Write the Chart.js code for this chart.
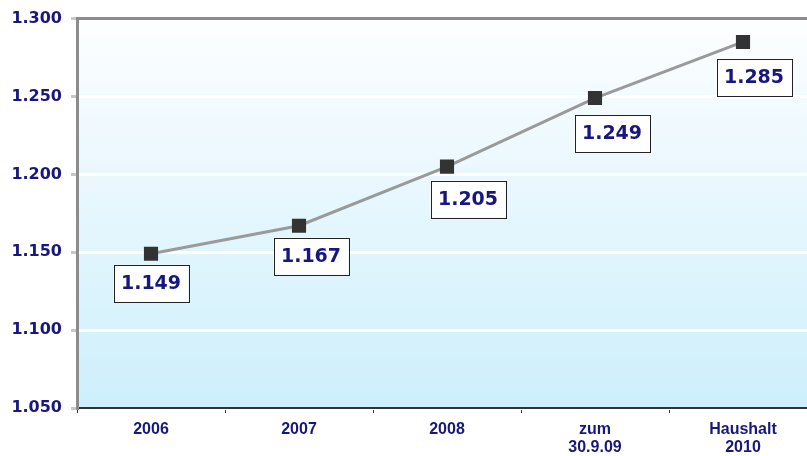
<!DOCTYPE html>
<html>
<head>
<meta charset="utf-8">
<script src="https://cdn.jsdelivr.net/npm/chart.js@4/dist/chart.umd.min.js"></script>
<style>
  html, body { margin: 0; padding: 0; background: #fff; overflow: hidden; }
  /* Zeichenfläche läuft rechts etwas über den Bildrand hinaus (wie im Original) */
  #wrap { width: 817px; height: 456px; }
  canvas { display: block; }
</style>
</head>
<body>
<div id="wrap"><canvas id="chart"></canvas></div>
<script>
// Kategorien (x-Achse)
var categories = ['2006', '2007', '2008', ['zum', '30.9.09'], ['Haushalt', '2010']];
// Werte der Reihe
var values = [1149, 1167, 1205, 1249, 1285];
// y-Achse
var yMin = 1050;
var yMax = 1300;
var yStep = 50;

// Verschiebung der Beschriftungskästen (wie im Original von Hand gesetzt)
var labelShiftX = [0, 12, 21, 17, 11];
var labelShiftY = [11, 12, 14, 17, 17];

var navy = '#17177f';

function deFormat(v) {
  var s = String(Math.round(v));
  if (s.length > 3) s = s.slice(0, s.length - 3) + '.' + s.slice(-3);
  return s;
}

// Hintergrund: Verlauf weiss -> hellblau
var bgPlugin = {
  id: 'bg',
  beforeDraw: function (chart) {
    var a = chart.chartArea, c = chart.ctx;
    var g = c.createLinearGradient(0, a.top, 0, a.bottom);
    g.addColorStop(0, '#fdfeff');
    g.addColorStop(1, '#cdeffc');
    c.save();
    c.fillStyle = g;
    c.fillRect(a.left, a.top, a.right - a.left, a.bottom - a.top);
    c.restore();
  }
};

// Beschriftungen in Kästen unter den Punkten
var boxPlugin = {
  id: 'boxes',
  afterDatasetsDraw: function (chart) {
    var c = chart.ctx;
    var meta = chart.getDatasetMeta(0);
    c.save();
    c.font = 'bold 19px "DejaVu Sans"';
    c.textAlign = 'center';
    c.textBaseline = 'middle';
    meta.data.forEach(function (pt, i) {
      var w = 75, h = 37;
      var cx = pt.x + labelShiftX[i];
      var top = pt.y + labelShiftY[i];
      c.fillStyle = '#fff';
      c.fillRect(cx - w / 2, top, w, h);
      c.strokeStyle = '#222';
      c.lineWidth = 1;
      c.strokeRect(Math.round(cx - w / 2) + 0.5, Math.round(top) + 0.5, w, h);
      c.fillStyle = navy;
      c.fillText(deFormat(values[i]), cx, top + h / 2 + 1);
    });
    c.restore();
  }
};

var ctx = document.getElementById('chart').getContext('2d');
var chart = new Chart(ctx, {
  type: 'line',
  data: {
    labels: categories,
    datasets: [{
      data: values,
      borderColor: '#9a9a9a',
      borderWidth: 3,
      pointStyle: 'rect',
      pointRadius: 10,
      pointBorderWidth: 0,
      pointBackgroundColor: '#333',
      pointHoverRadius: 10,
      tension: 0
    }]
  },
  options: {
    responsive: true,
    maintainAspectRatio: false,
    animation: false,
    layout: { autoPadding: false, padding: { top: 16, right: 0, left: 0, bottom: 0 } },
    plugins: { legend: { display: false }, tooltip: { enabled: false } },
    scales: {
      x: {
        offset: true,
        grid: { offset: true, drawOnChartArea: false, drawTicks: true, tickLength: 5, tickColor: '#333' },
        border: { color: '#333', width: 2 },
        ticks: {
          color: navy,
          padding: 7,
          maxRotation: 0,
          autoSkip: false,
          font: { family: '"Liberation Sans", Arial', weight: 'bold', size: 16, lineHeight: 1.15 }
        },
        afterFit: function (s) { s.height = 48; }
      },
      y: {
        min: yMin,
        max: yMax,
        ticks: {
          stepSize: yStep,
          color: navy,
          padding: 9,
          font: { family: '"DejaVu Sans"', weight: 'bold', size: 16 },
          callback: function (v) { return deFormat(v); }
        },
        grid: {
          color: function (c) { return c.tick && c.tick.value === yMax ? '#8c8c8c' : '#ffffff'; },
          lineWidth: 3,
          tickColor: '#c8c8c8',
          tickLength: 6
        },
        border: { color: '#8c8c8c', width: 3 },
        afterFit: function (s) { s.width = 77; }
      }
    }
  },
  plugins: [bgPlugin, boxPlugin]
});
</script>
</body>
</html>
